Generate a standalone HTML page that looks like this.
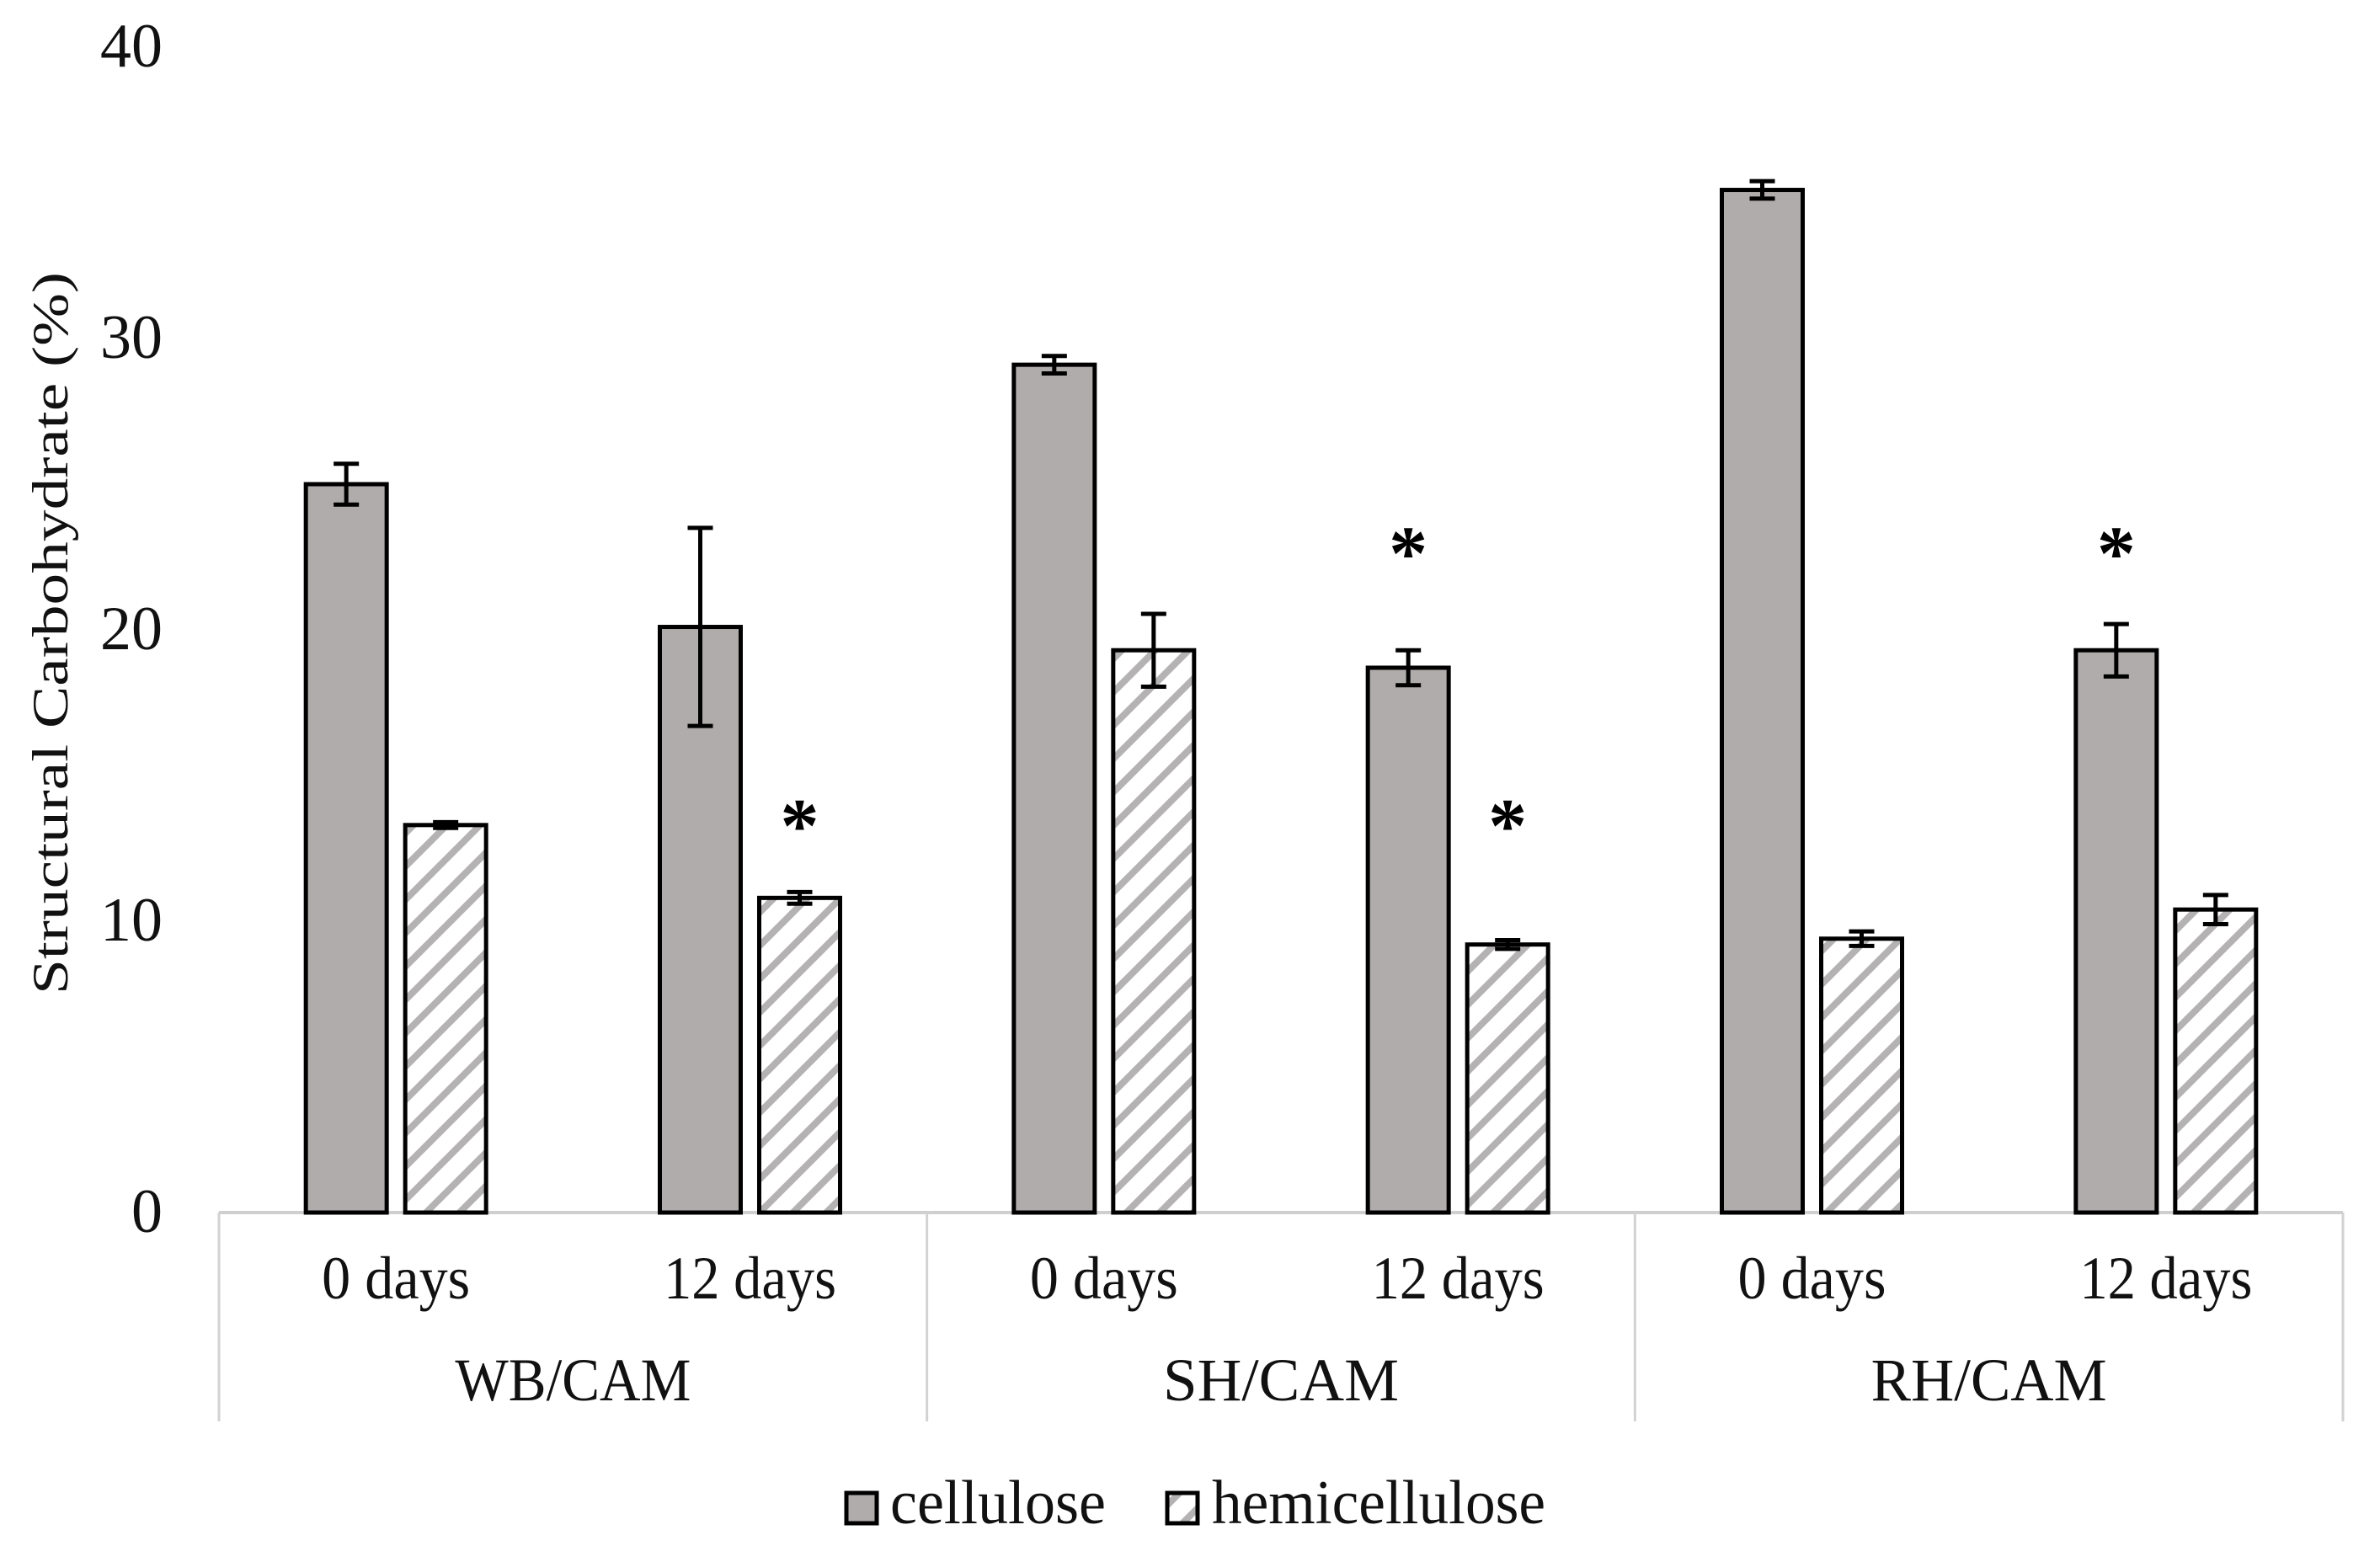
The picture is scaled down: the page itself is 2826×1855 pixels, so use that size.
<!DOCTYPE html>
<html><head><meta charset="utf-8"><style>
html,body{margin:0;padding:0;background:#fff;}
svg{display:block;font-family:"Liberation Serif",serif;}
</style></head><body>
<svg id="chart" width="2826" height="1855" viewBox="0 0 2826 1855" xmlns="http://www.w3.org/2000/svg">
<defs>
<pattern id="hatch" patternUnits="userSpaceOnUse" width="28" height="28" patternTransform="rotate(45)">
<rect width="28" height="28" fill="#fff"/>
<rect x="0" y="0" width="8" height="28" fill="#b4b2b2"/>
</pattern>
</defs>
<g id="layer"></g>
</svg>
<script>
const groups = ["WB/CAM", "SH/CAM", "RH/CAM"];
const categories = ["0 days", "12 days", "0 days", "12 days", "0 days", "12 days"];
const cellulose = [25.0, 20.1, 29.1, 18.7, 35.1, 19.3];
const celluloseErr = [0.7, 3.4, 0.3, 0.6, 0.3, 0.9];
const hemicellulose = [13.3, 10.8, 19.3, 9.2, 9.4, 10.4];
const hemicelluloseErr = [0.1, 0.2, 1.25, 0.15, 0.25, 0.5];
const celluloseStar = [false, false, false, true, false, true];
const hemicelluloseStar = [false, true, false, true, false, false];
const starLevel = [23.0, 13.65];
const yTicks = [0, 10, 20, 30, 40];

const NS = "http://www.w3.org/2000/svg";
const layer = document.getElementById("layer");
const X0 = 260, X1 = 2782, Y0 = 1440, PER = 34.6;
const catW = (X1 - X0) / categories.length;
function y(v){ return Y0 - v * PER; }
function xc(i){ return X0 + catW * (i + 0.5); }
function mk(tag, attrs, parent){
  const e = document.createElementNS(NS, tag);
  for (const k in attrs) e.setAttribute(k, attrs[k]);
  (parent || layer).appendChild(e);
  return e;
}

// y tick labels
yTicks.forEach(function(t){
  const e = mk("text", {x: 193, y: y(t) + 23, "text-anchor": "end", "font-size": 74, fill: "#111"});
  e.textContent = t;
  
  
});

// y-axis title
const yt = mk("text", {x: 0, y: 0, transform: "translate(80,752) rotate(-90)", "text-anchor": "middle", "font-size": 60, fill: "#111", textLength: 858, lengthAdjust: "spacingAndGlyphs"});
yt.textContent = "Structural Carbohydrate (%)";



// category axis box
const ax = mk("line", {x1: X0, y1: Y0, x2: X1, y2: Y0, stroke: "#cfcfcf", "stroke-width": 4});


for (let g = 0; g <= groups.length; g++){
  const gx = X0 + (X1 - X0) / groups.length * g;
  const d = mk("line", {x1: gx, y1: Y0, x2: gx, y2: 1688, stroke: "#d2d2d2", "stroke-width": 3});
  
  
}
categories.forEach(function(c, i){
  const t = mk("text", {x: xc(i), y: 1542, "text-anchor": "middle", "font-size": 72, fill: "#111", textLength: i % 2 ? 205 : 176, lengthAdjust: "spacingAndGlyphs"});
  t.textContent = c;
  
  
});
groups.forEach(function(gname, g){
  const t = mk("text", {x: X0 + (X1 - X0) / groups.length * (g + 0.5), y: 1663, "text-anchor": "middle", "font-size": 72, fill: "#111", textLength: 280, lengthAdjust: "spacingAndGlyphs"});
  t.textContent = gname;
  
  
});

// bars
const BW = 96, OFF = 59;
function drawBar(i, v, err, star, isHemi){
  const cx = xc(i) + (isHemi ? OFF : -OFF);
  const r = mk("rect", {x: cx - BW/2, y: y(v), width: BW, height: Y0 - y(v), fill: isHemi ? "url(#hatch)" : "#b0acab", stroke: "#000", "stroke-width": 5});
  
  
  const eb = mk("path", {d: "M" + cx + " " + y(v + err) + "V" + y(v - err) + "M" + (cx - 15) + " " + y(v + err) + "H" + (cx + 15) + "M" + (cx - 15) + " " + y(v - err) + "H" + (cx + 15), stroke: "#000", "stroke-width": 5, fill: "none"});
  
  
  if (star){
    const s = mk("text", {x: cx, y: y(starLevel[isHemi ? 1 : 0]) + 44, "text-anchor": "middle", "font-size": 92, "font-weight": "bold", fill: "#000"});
    s.textContent = "*";
    
    
  }
}
categories.forEach(function(c, i){
  drawBar(i, cellulose[i], celluloseErr[i], celluloseStar[i], false);
  drawBar(i, hemicellulose[i], hemicelluloseErr[i], hemicelluloseStar[i], true);
});

// legend
const l1 = mk("rect", {x: 1005, y: 1773, width: 36, height: 36, fill: "#b0acab", stroke: "#000", "stroke-width": 5});


const t1 = mk("text", {x: 1057, y: 1809, "font-size": 74, fill: "#111", textLength: 256, lengthAdjust: "spacingAndGlyphs"});
t1.textContent = "cellulose";


const l2 = mk("rect", {x: 1386, y: 1773, width: 36, height: 36, fill: "url(#hatch)", stroke: "#000", "stroke-width": 5});


const t2 = mk("text", {x: 1439, y: 1809, "font-size": 74, fill: "#111", textLength: 396, lengthAdjust: "spacingAndGlyphs"});
t2.textContent = "hemicellulose";


</script>
</body></html>
